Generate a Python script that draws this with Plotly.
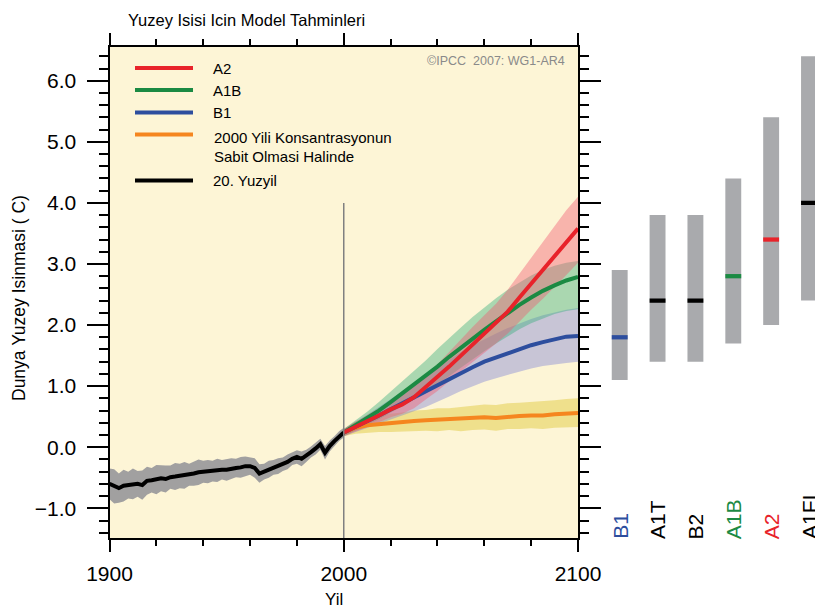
import plotly.graph_objects as go

# ---------------- data ----------------
hist_years = list(range(1900, 2001, 2))
hist_mean = [-0.60, -0.64, -0.67, -0.63, -0.62, -0.60, -0.60, -0.62, -0.55, -0.54,
             -0.53, -0.51, -0.52, -0.49, -0.48, -0.47, -0.46, -0.45, -0.43, -0.41,
             -0.40, -0.40, -0.39, -0.38, -0.37, -0.37, -0.35, -0.34, -0.33, -0.31,
             -0.31, -0.34, -0.43, -0.40, -0.36, -0.33, -0.31, -0.28, -0.24, -0.19,
             -0.16, -0.19, -0.14, -0.08, -0.02, 0.05, -0.09, 0.02, 0.10, 0.18, 0.24]
hist_spread = [0.25, 0.28, 0.24, 0.26, 0.22, 0.25, 0.21, 0.24, 0.23, 0.20,
               0.24, 0.21, 0.22, 0.19, 0.22, 0.20, 0.22, 0.18, 0.20, 0.21,
               0.18, 0.19, 0.17, 0.19, 0.16, 0.18, 0.17, 0.15, 0.17, 0.16,
               0.14, 0.16, 0.15, 0.13, 0.14, 0.12, 0.13, 0.11, 0.12, 0.10,
               0.11, 0.12, 0.10, 0.09, 0.10, 0.09, 0.11, 0.09, 0.08, 0.08, 0.08]

proj_years = list(range(2000, 2101, 5))
a2_mean = [0.24, 0.33, 0.42, 0.52, 0.62, 0.70, 0.82, 0.98, 1.14, 1.32, 1.50,
           1.68, 1.85, 2.02, 2.22, 2.45, 2.68, 2.90, 3.12, 3.36, 3.58]
a2_low = [0.18, 0.26, 0.33, 0.41, 0.49, 0.55, 0.64, 0.78, 0.92, 1.08, 1.24,
          1.40, 1.55, 1.70, 1.86, 2.05, 2.25, 2.43, 2.62, 2.82, 3.02]
a2_high = [0.30, 0.41, 0.52, 0.64, 0.76, 0.86, 1.00, 1.18, 1.36, 1.56, 1.77,
           1.97, 2.16, 2.35, 2.58, 2.84, 3.10, 3.36, 3.62, 3.88, 4.10]

a1b_mean = [0.24, 0.36, 0.48, 0.60, 0.74, 0.88, 1.02, 1.16, 1.32, 1.48, 1.62,
            1.78, 1.92, 2.06, 2.20, 2.33, 2.45, 2.56, 2.65, 2.73, 2.79]
a1b_low = [0.18, 0.28, 0.37, 0.46, 0.56, 0.67, 0.78, 0.90, 1.03, 1.16, 1.30,
           1.44, 1.57, 1.70, 1.82, 1.93, 2.03, 2.11, 2.18, 2.23, 2.26]
a1b_high = [0.30, 0.44, 0.58, 0.74, 0.91, 1.08, 1.25, 1.42, 1.61, 1.79, 1.96,
            2.13, 2.29, 2.44, 2.58, 2.70, 2.81, 2.90, 2.97, 3.02, 3.05]

b1_mean = [0.24, 0.33, 0.42, 0.52, 0.62, 0.72, 0.82, 0.92, 1.02, 1.12, 1.22,
           1.31, 1.40, 1.47, 1.54, 1.61, 1.67, 1.72, 1.77, 1.81, 1.82]
b1_low = [0.18, 0.25, 0.31, 0.38, 0.45, 0.52, 0.59, 0.66, 0.74, 0.83, 0.92,
          1.00, 1.07, 1.13, 1.19, 1.24, 1.29, 1.33, 1.36, 1.38, 1.40]
b1_high = [0.30, 0.41, 0.53, 0.66, 0.79, 0.92, 1.05, 1.18, 1.31, 1.44, 1.56,
           1.67, 1.77, 1.86, 1.95, 2.03, 2.10, 2.16, 2.21, 2.25, 2.28]

const_mean = [0.24, 0.32, 0.36, 0.38, 0.40, 0.41, 0.43, 0.44, 0.45, 0.46, 0.46,
              0.47, 0.49, 0.48, 0.50, 0.51, 0.52, 0.52, 0.54, 0.55, 0.56]
const_low = [0.18, 0.22, 0.24, 0.25, 0.25, 0.26, 0.26, 0.27, 0.26, 0.28, 0.26,
             0.28, 0.29, 0.27, 0.30, 0.30, 0.31, 0.30, 0.32, 0.33, 0.33]
const_high = [0.30, 0.42, 0.48, 0.52, 0.55, 0.57, 0.60, 0.61, 0.64, 0.64, 0.66,
              0.67, 0.70, 0.69, 0.72, 0.73, 0.74, 0.75, 0.77, 0.79, 0.80]

scenarios = ["B1", "A1T", "B2", "A1B", "A2", "A1FI"]
range_low = [1.1, 1.4, 1.4, 1.7, 2.0, 2.4]
range_high = [2.9, 3.8, 3.8, 4.4, 5.4, 6.4]
best_est = [1.8, 2.4, 2.4, 2.8, 3.4, 4.0]

y_ticks = [-1.0, 0.0, 1.0, 2.0, 3.0, 4.0, 5.0, 6.0]
x_ticks = [1900, 2000, 2100]

# ---------------- styles ----------------
RED = "#E8232A"
GREEN = "#1B8A43"
BLUE = "#2D4E9E"
ORANGE = "#F5861F"
BLACK = "#000000"
BG = "#FDF5D6"
BAR_GRAY = "#A9AAAD"
label_colors = [BLUE, BLACK, BLACK, GREEN, RED, BLACK]
best_colors = [BLUE, BLACK, BLACK, GREEN, RED, BLACK]

# page body adds an 8px offset; figure is sized to fit the window
OFF = 8
W, H = 823 - OFF, 610 - OFF
def px(x):
    return (x - OFF) / W
def py(y):
    return 1 - (y - OFF) / H

FONT = "Liberation Sans, Arial, sans-serif"

fig = go.Figure()

def band(xs, lo, hi, color):
    fig.add_trace(go.Scatter(x=xs + xs[::-1], y=hi + lo[::-1], fill="toself",
                             fillcolor=color, line=dict(width=0), mode="lines",
                             hoverinfo="skip", showlegend=False))

# historical band
hist_hi = [m + s for m, s in zip(hist_mean, hist_spread)]
hist_lo = [m - s for m, s in zip(hist_mean, hist_spread)]
band(hist_years, hist_lo, hist_hi, "rgba(145,145,150,0.85)")

band(proj_years, const_low, const_high, "rgba(228,205,80,0.55)")
band(proj_years, b1_low, b1_high, "rgba(120,125,215,0.40)")
band(proj_years, a1b_low, a1b_high, "rgba(55,175,125,0.42)")
band(proj_years, a2_low, a2_high, "rgba(240,90,115,0.42)")

def line(xs, ys, color, name):
    fig.add_trace(go.Scatter(x=xs, y=ys, mode="lines", name=name,
                             line=dict(color=color, width=4), showlegend=False))

line(hist_years, hist_mean, BLACK, "20. Yuzyil")
line(proj_years, const_mean, ORANGE, "2000")
line(proj_years, b1_mean, BLUE, "B1")
line(proj_years, a1b_mean, GREEN, "A1B")
line(proj_years, a2_mean, RED, "A2")

# right panel bars
idx = list(range(len(scenarios)))
fig.add_trace(go.Bar(x=idx, y=[h - l for h, l in zip(range_high, range_low)],
                     base=range_low, width=0.42, marker=dict(color=BAR_GRAY, line=dict(width=0)),
                     xaxis="x2", yaxis="y2", showlegend=False))
fig.add_trace(go.Bar(x=idx, y=[0.07] * len(idx), base=[b - 0.035 for b in best_est],
                     width=0.42, marker=dict(color=best_colors, line=dict(width=0)),
                     xaxis="x2", yaxis="y2", showlegend=False))

x0p, x1p = 109.5, 578
y0p, y1p = 47, 538
yr = [-1.486, 6.552]
# bar panel: category 0 at px 619.7, 37.86 px per category
x2_left, x2_right = 590, 823

fig.update_layout(
    width=W, height=H, margin=dict(l=0, r=0, t=0, b=0, autoexpand=False),
    paper_bgcolor="white", plot_bgcolor="rgba(0,0,0,0)",
    font=dict(family=FONT, color="black"),
    barmode="overlay",
    xaxis=dict(domain=[px(x0p), px(x1p)], range=[1900, 2100], tickvals=x_ticks,
               ticks="outside", ticklen=12, tickwidth=2, tickcolor="black",
               showline=True, linewidth=2, linecolor="black", mirror="ticks",
               showgrid=False, zeroline=False, tickfont=dict(size=21),
               ticklabelstandoff=4, automargin=False,
               minor=dict(dtick=20, ticks="outside", ticklen=6, tickwidth=1.5,
                          tickcolor="black", showgrid=False)),
    yaxis=dict(domain=[py(y1p), py(y0p)], range=yr, tickvals=y_ticks,
               tickformat=".1f", ticks="outside", ticklen=21, tickwidth=2,
               tickcolor="black", showline=True, linewidth=2, linecolor="black",
               mirror="ticks", showgrid=False, zeroline=False, tickfont=dict(size=21),
               ticklabelstandoff=6, automargin=False,
               minor=dict(dtick=0.2, ticks="outside", ticklen=9, tickwidth=1.5,
                          tickcolor="black", showgrid=False)),
    xaxis2=dict(domain=[px(x2_left), 1.0],
                range=[(x2_left - 619.7) / 37.86, (x2_right - 619.7) / 37.86],
                visible=False, anchor="y2", automargin=False),
    yaxis2=dict(domain=[py(y1p), py(y0p)], range=yr, visible=False, anchor="x2",
                automargin=False),
)

shapes = [
    dict(type="rect", xref="x domain", yref="y domain", x0=0, x1=1, y0=0, y1=1,
         fillcolor=BG, line=dict(width=0), layer="below"),
    dict(type="line", xref="x", yref="y", x0=2000, x1=2000, y0=yr[0], y1=4.0,
         line=dict(color="#808080", width=1.5)),
]
legend_items = [(68, RED, "A2"), (90, GREEN, "A1B"), (112.5, BLUE, "B1"),
                (134.5, ORANGE, None), (180.5, BLACK, "20. Yuzyil")]
annotations = []
LEG = 15
for yy, col, txt in legend_items:
    shapes.append(dict(type="line", xref="paper", yref="paper", x0=px(135), x1=px(193),
                       y0=py(yy), y1=py(yy), line=dict(color=col, width=4)))
    if txt:
        annotations.append(dict(x=px(211), y=py(yy + 0.5), xref="paper", yref="paper",
                                text=txt, showarrow=False, xanchor="left",
                                yanchor="middle", font=dict(size=LEG)))
annotations.append(dict(x=px(212), y=py(137.5), xref="paper", yref="paper",
                        text="2000 Yili Konsantrasyonun", showarrow=False,
                        xanchor="left", yanchor="middle", font=dict(size=LEG)))
annotations.append(dict(x=px(212), y=py(156.5), xref="paper", yref="paper",
                        text="Sabit Olmasi Halinde", showarrow=False,
                        xanchor="left", yanchor="middle", font=dict(size=LEG)))
annotations.append(dict(x=px(567), y=py(61), xref="paper", yref="paper",
                        text="©IPCC  2007: WG1-AR4", showarrow=False,
                        xanchor="right", yanchor="middle",
                        font=dict(size=12.5, color="#8A8A8A")))
annotations.append(dict(x=px(126), y=py(8.5), xref="paper", yref="paper",
                        text="Yuzey Isisi Icin Model Tahminleri", showarrow=False,
                        xanchor="left", yanchor="top", font=dict(size=16.5)))
annotations.append(dict(x=px(334), y=py(599), xref="paper", yref="paper",
                        text="Yil", showarrow=False, xanchor="center",
                        yanchor="middle", font=dict(size=17)))
annotations.append(dict(x=px(19), y=py(298), xref="paper", yref="paper",
                        text="Dunya Yuzey Isinmasi ( C)", showarrow=False,
                        xanchor="center", yanchor="middle", textangle=-90,
                        font=dict(size=17.5)))
for i, (s, c) in enumerate(zip(scenarios, label_colors)):
    annotations.append(dict(x=i, y=py(541), xref="x2", yref="paper", text=s,
                            showarrow=False, xanchor="center", yanchor="bottom",
                            textangle=-90, font=dict(size=21, color=c)))

fig.update_layout(shapes=shapes, annotations=annotations)
fig.write_html("out.html")
